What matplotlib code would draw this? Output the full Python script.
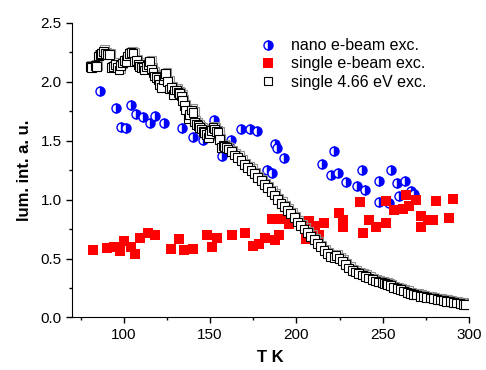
import matplotlib
matplotlib.use('Agg')
import matplotlib.pyplot as plt
import matplotlib.patheffects as pe
from matplotlib.ticker import MultipleLocator

plt.rcParams['font.family'] = ['Liberation Sans', 'DejaVu Sans']

# nano e-beam excitation (half-filled blue circles)
nano_T = [86.2, 95.3, 98.2, 101.2, 104.1, 107.4, 111.2, 115.1, 118.4, 123.2,
          134.0, 140.1, 145.9, 152.1, 157.1, 162.3, 168.1, 172.9, 177.1, 183.2,
          186.0, 187.9, 188.7, 193.1, 214.6, 220.1, 222.0, 224.0, 228.8, 234.9,
          238.0, 240.0, 247.6, 247.6, 253.8, 254.8, 258.1, 259.6, 263.1, 266.4,
          268.3]
nano_I = [1.92, 1.78, 1.62, 1.61, 1.80, 1.73, 1.70, 1.65, 1.71, 1.65,
          1.61, 1.53, 1.51, 1.68, 1.37, 1.51, 1.60, 1.60, 1.58, 1.25,
          1.23, 1.47, 1.44, 1.35, 1.30, 1.21, 1.41, 1.23, 1.15, 1.12,
          1.25, 1.08, 1.16, 0.98, 0.97, 1.25, 1.14, 1.03, 1.16, 1.07,
          1.05]

# single e-beam excitation (red squares)
ebeam_T = [82.3, 90.1, 94.3, 98.1, 100.2, 104.1, 106.4, 109.3, 114.1, 118.4,
           127.2, 132.0, 134.9, 140.1, 148.2, 151.1, 154.2, 162.9, 170.0, 174.8,
           178.2, 182.1, 186.0, 187.9, 190.2, 191.2, 196.0, 205.7, 207.6, 211.0,
           213.3, 216.2, 224.9, 226.8, 226.8, 236.9, 238.8, 241.8, 246.1, 251.9,
           251.9, 256.7, 261.5, 263.8, 265.0, 269.2, 272.1, 272.1, 276.0, 279.2,
           280.8, 288.5, 291.0]
ebeam_I = [0.57, 0.59, 0.60, 0.56, 0.65, 0.60, 0.54, 0.675, 0.72, 0.70,
           0.58, 0.67, 0.57, 0.58, 0.70, 0.60, 0.675, 0.70, 0.72, 0.61,
           0.62, 0.675, 0.835, 0.655, 0.70, 0.835, 0.79, 0.67, 0.82, 0.78,
           0.70, 0.80, 0.89, 0.83, 0.77, 0.98, 0.72, 0.825, 0.77, 0.80,
           0.99, 0.91, 0.92, 1.04, 0.95, 1.00, 0.865, 0.77, 0.825, 0.825,
           0.99, 0.845, 1.005]

# single 4.66 eV excitation (open squares)
uv_T = [80.4, 81.5, 83.3, 84.3, 85.2, 86.3, 87.2, 88.2, 89.1, 90.3,
        91.6, 92.9, 94.0, 95.4, 96.3, 97.3, 98.3, 99.3, 100.5, 101.6,
        102.4, 103.1, 104.2, 105.4, 106.4, 107.5, 108.4, 109.3, 110.4, 111.3,
        112.2, 113.2, 114.1, 115.1, 116.0, 117.0, 118.0, 119.0, 120.0, 120.9,
        121.8, 122.8, 123.5, 124.3, 125.5, 126.6, 127.6, 128.6, 129.5, 130.5,
        131.5, 132.4, 133.4, 134.0, 135.0, 135.9, 137.2, 138.2, 139.2, 140.1,
        141.1, 142.1, 143.1, 144.0, 145.0, 146.0, 147.0, 147.9, 148.9, 149.8,
        150.8, 151.7, 152.7, 153.6, 154.6, 155.5, 156.5, 157.5, 158.4, 159.4,
        160.4, 162.3, 164.2, 166.1, 168.0, 170.0, 171.9, 173.8, 175.7, 177.6,
        179.6, 181.5, 183.4, 185.3, 187.2, 189.2, 191.1, 193.0, 194.9, 196.8,
        198.8, 200.7, 202.6, 204.5, 206.4, 208.4, 210.3, 212.2, 214.1, 216.0,
        218.0, 219.9, 221.8, 223.0, 224.7, 226.6, 228.5, 230.4, 232.4, 234.3,
        236.2, 238.1, 240.0, 242.0, 243.9, 245.8, 247.7, 249.6, 251.0, 252.0,
        253.0, 254.5, 256.4, 258.3, 260.2, 262.2, 264.1, 266.0, 267.9, 269.8,
        271.8, 273.7, 275.6, 277.5, 279.4, 281.4, 283.3, 285.2, 287.1, 289.0,
        291.0, 292.9, 294.8, 296.7, 298.1]
uv_I = [2.13, 2.12, 2.14, 2.13, 2.22, 2.23, 2.24, 2.26, 2.24, 2.23,
        2.23, 2.12, 2.13, 2.15, 2.12, 2.10, 2.14, 2.16, 2.18, 2.17,
        2.22, 2.24, 2.25, 2.24, 2.17, 2.18, 2.15, 2.13, 2.12, 2.12,
        2.10, 2.13, 2.15, 2.17, 2.11, 2.08, 2.05, 2.04, 2.02, 1.98,
        1.95, 2.02, 2.05, 2.07, 2.00, 1.94, 1.95, 1.89, 1.93, 1.93,
        1.91, 1.90, 1.88, 1.84, 1.80, 1.76, 1.69, 1.72, 1.76, 1.74,
        1.66, 1.64, 1.63, 1.61, 1.60, 1.58, 1.57, 1.55, 1.53, 1.56,
        1.59, 1.61, 1.60, 1.58, 1.57, 1.51, 1.44, 1.46, 1.45, 1.44,
        1.43, 1.41, 1.38, 1.36, 1.33, 1.30, 1.27, 1.25, 1.22, 1.19,
        1.16, 1.13, 1.10, 1.07, 1.04, 1.00, 0.97, 0.94, 0.91, 0.88,
        0.85, 0.81, 0.78, 0.75, 0.72, 0.69, 0.66, 0.63, 0.60, 0.57,
        0.54, 0.52, 0.51, 0.525, 0.50, 0.48, 0.45, 0.42, 0.40, 0.385,
        0.37, 0.36, 0.35, 0.335, 0.32, 0.31, 0.30, 0.295, 0.29, 0.285,
        0.28, 0.27, 0.255, 0.245, 0.235, 0.225, 0.215, 0.205, 0.195, 0.19,
        0.18, 0.175, 0.17, 0.165, 0.16, 0.153, 0.148, 0.143, 0.138, 0.133,
        0.128, 0.123, 0.118, 0.113, 0.11]

fig = plt.figure(figsize=(4.86, 3.70), dpi=100)
ax = fig.add_axes([0.148, 0.142, 0.817, 0.796])

ax.plot(nano_T, nano_I, 'o', ls='none', ms=6.5, mew=1.0,
        fillstyle='right', color='#0000ff', markerfacecoloralt='white',
        markeredgecolor='#0000ff', label='nano e-beam exc.', zorder=2)
ax.plot(ebeam_T, ebeam_I, 's', ls='none', ms=6.5, mew=0,
        color='#ff0000', label='single e-beam exc.', zorder=3)
ax.plot(uv_T, uv_I, 's', ls='none', ms=6.3, mew=0.8,
        markerfacecolor='white', markeredgecolor='black',
        label='single 4.66 eV exc.', zorder=4,
        path_effects=[pe.SimpleLineShadow(offset=(1.0, 1.0), shadow_color='#909090', alpha=1),
                      pe.Normal()])

ax.set_xlim(70, 300)
ax.set_ylim(0, 2.5)
ax.xaxis.set_minor_locator(MultipleLocator(25))
ax.yaxis.set_major_locator(MultipleLocator(0.5))
ax.yaxis.set_minor_locator(MultipleLocator(0.25))
ax.set_xticks([100, 150, 200, 250, 300])
ax.yaxis.set_major_formatter(matplotlib.ticker.FormatStrFormatter('%.1f'))

for s in ['top', 'right']:
    ax.spines[s].set_visible(False)
ax.tick_params(which='major', direction='out', length=4, width=1, labelsize=11)
ax.tick_params(which='minor', direction='out', length=2.5, width=1)

ax.set_xlabel('T K', fontsize=12, fontweight='bold', labelpad=6)
ax.set_ylabel('lum. int. a. u.', fontsize=12, fontweight='bold', labelpad=6)

leg = ax.legend(loc='upper left', bbox_to_anchor=(0.46, 0.97), frameon=False,
                numpoints=1, handlelength=0.9, handletextpad=1.0, fontsize=11.5,
                labelspacing=0.2, borderaxespad=0)
# plain marker in the legend, no shadow
for h in leg.legend_handles:
    h.set_path_effects([])

fig.savefig('out.png', dpi=100)
